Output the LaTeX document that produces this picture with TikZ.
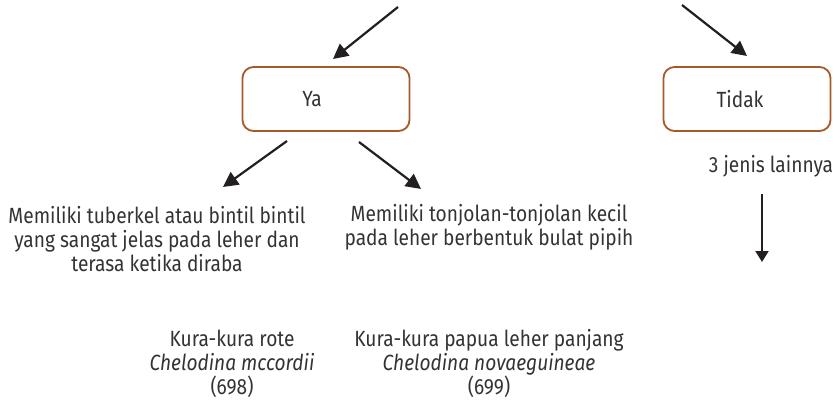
\documentclass[tikz,border=0pt]{standalone}
\usepackage{fontspec}
\setmainfont{Fira Sans}[FakeStretch=0.87]
\usetikzlibrary{arrows.meta}
\definecolor{boxbrown}{HTML}{A65A2A}
\definecolor{txt}{HTML}{333333}
\definecolor{arr}{HTML}{231F20}
\begin{document}
\begin{tikzpicture}[x=1pt,y=-1pt,
  ybox/.style={draw=boxbrown,line width=1.8pt,rounded corners=11pt,minimum width=167pt,minimum height=64pt,text=txt,font=\fontsize{22}{24}\selectfont},
  lbl/.style={text=txt,align=center,font=\fontsize{22}{24}\selectfont,inner sep=0pt},
  arrowline/.style={draw=arr,line width=2.2pt,-{Triangle[length=15pt,width=15pt]}},
  smallarrow/.style={draw=arr,line width=2pt,-{Triangle[length=11pt,width=13pt]}}]
\useasboundingbox (0,0) rectangle (840,406);
\node[ybox] (ya) at (326,99) {\hspace*{-28pt}Ya};
\node[ybox] (tidak) at (747,99) {\hspace*{-14pt}Tidak};
\coordinate (s1) at (398,7);
\coordinate (s2) at (682,5);
\draw[arrowline] (s1) -- (333,59);
\draw[arrowline] (s2) -- (747,56);
\node[lbl] (lain) at (771,166) {3 jenis lainnya};
\coordinate (d1) at (762,194);
\draw[smallarrow] (d1) -- (762,262);
\coordinate (y1) at (287,141);
\coordinate (y2) at (359,142);
\draw[arrowline] (y1) -- (223,187);
\draw[arrowline] (y2) -- (421,189);
\node[lbl] (left) at (157,239) {Memiliki tuberkel atau bintil bintil\\yang sangat jelas pada leher dan\\terasa ketika diraba};
\node[lbl] (right) at (489,227) {Memiliki tonjolan-tonjolan kecil\\pada leher berbentuk bulat pipih};
\node[lbl] (sp1) at (232,364) {Kura-kura rote\\\textit{Chelodina mccordii}\\(698)};
\node[lbl] (sp2) at (489,364) {Kura-kura papua leher panjang\\\textit{Chelodina novaeguineae}\\(699)};
\end{tikzpicture}
\end{document}
